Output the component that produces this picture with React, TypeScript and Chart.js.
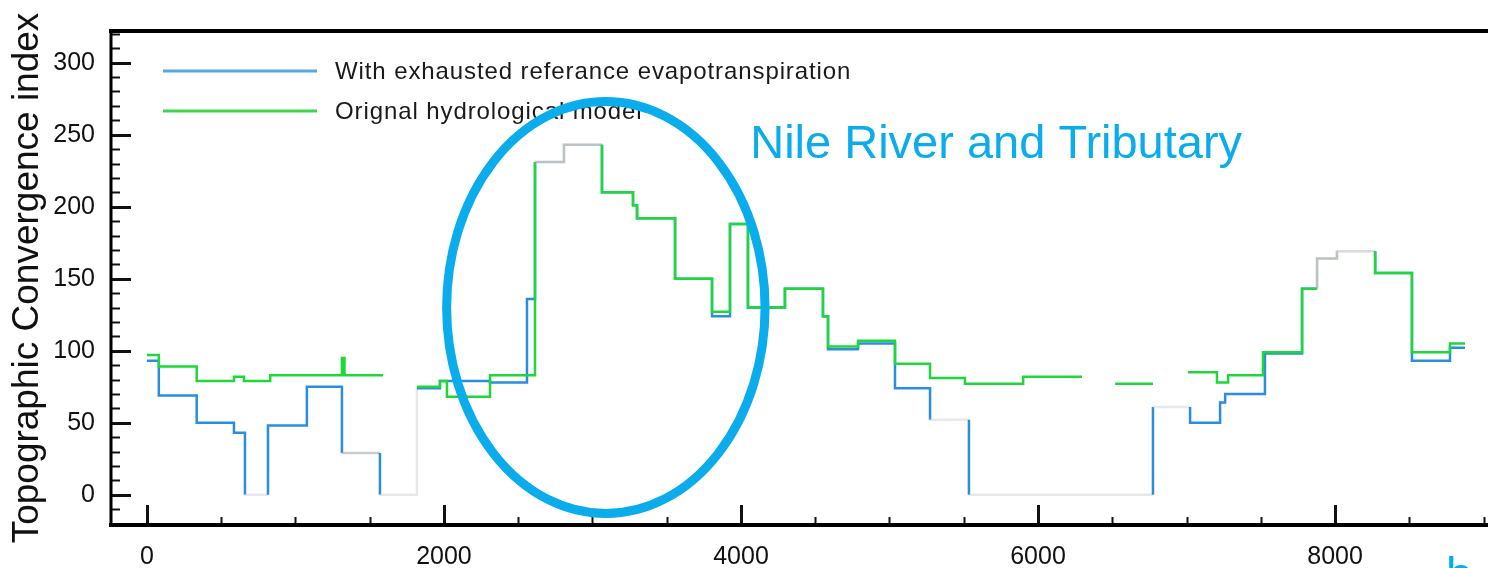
import { useEffect, useRef } from "react";
import { Chart, registerables } from "chart.js";

Chart.register(...registerables);

// Axis ticks
const xTickValues = [0, 2000, 4000, 6000, 8000];
const yTickValues = [0, 50, 100, 150, 200, 250, 300];

// Step series: value i holds from stepX[i] to stepX[i + 1]; null = no data
const blueStepX = [0, 80, 335, 586, 660, 815, 1077, 1313, 1569, 1818, 1973, 2310, 2559, 2613, 2808, 3064, 3273, 3300, 3556, 3805, 3926, 4047, 4296, 4552, 4586, 4788, 5037, 5273, 5535, 6774, 7024, 7226, 7260, 7528, 7778, 7879, 8013, 8270, 8518, 8774, 8875];
const blueStepY = [93, 69, 50, 43, 0, 48, 75, 29, 0, 74, 79, 78, 136, 231, 243, 210, 201, 192, 150, 124, 188, 130, 143, 124, 101, 105, 74, 52, 0, 61, 50, 64, 70, 98, 143, 164, 169, 154, 93, 102];

const greenStepX = [0, 80, 335, 586, 653, 830, 1313, 1330, 1590, 1818, 1973, 2020, 2310, 2613, 2808, 3064, 3273, 3300, 3556, 3805, 3926, 4047, 4296, 4552, 4586, 4788, 5037, 5273, 5508, 5900, 6296, 6519, 6774, 7010, 7205, 7280, 7515, 7778, 7879, 8013, 8270, 8518, 8774, 8875];
const greenStepY = [97, 89, 79, 82, 79, 83, 95, 83, null, 75, 79, 68, 83, 231, 243, 210, 201, 192, 150, 127, 188, 130, 143, 124, 103, 107, 91, 81, 77, 82, null, 77, null, 85, 78, 83, 99, 143, 164, 169, 154, 99, 105];

// Stretches where the printed trace is washed out: [from, to, strength]
const FAINT = "rgba(160,170,175,0.6)";
const GHOST = "rgba(200,205,210,0.45)";
const blueFaintSpans: [number, number, string][] = [
  [660, 815, GHOST],
  [1313, 1569, FAINT],
  [1569, 1820, GHOST],
  [2613, 3064, GHOST],
  [5273, 5535, GHOST],
  [5535, 6774, GHOST],
  [6774, 7024, GHOST],
  [7870, 8270, GHOST],
];
const greenFaintSpans: [number, number, string][] = [
  [2613, 3064, FAINT],
  [7870, 8014, FAINT],
  [8014, 8270, GHOST],
];

const seriesLabels = ["With exhausted referance evapotranspiration", "Orignal hydrological model"];
const yAxisTitle = "Topographic Convergence index";
const calloutText = "Nile River and Tributary";
// Highlight ring and callout anchored in data units
const ring = { x: 3090, y: 130, rx: 1072, ry: 143 };
const callout = { x: 4062, y: 234 };

const BLUE = "#2a8de0";
const GREEN = "#1ed83a";
const CYAN = "#0aacec";
const FONT = "'Liberation Sans', Arial, sans-serif";

type Pt = { x: number; y: number | null };

// Corner points of a step trace (horizontal runs joined by vertical risers)
function stepCorners(xs: number[], ys: (number | null)[]): Pt[] {
  const pts: Pt[] = [];
  for (let i = 0; i < ys.length; i++) {
    const v = ys[i];
    if (v === null) {
      pts.push({ x: xs[i], y: null });
      continue;
    }
    pts.push({ x: xs[i], y: v });
    pts.push({ x: xs[i + 1], y: v });
  }
  return pts;
}

function fadeFor(spans: [number, number, string][]) {
  return (c: any) => {
    const x0 = c.p0.parsed.x;
    const x1 = c.p1.parsed.x;
    if (x0 === x1) {
      const hit = spans.find(([a, b]) => x0 > a && x0 < b);
      return hit ? hit[2] : undefined;
    }
    const mid = (x0 + x1) / 2;
    const hit = spans.find(([a, b]) => mid >= a && mid < b);
    return hit ? hit[2] : undefined;
  };
}

const overlayPlugin = {
  id: "frameTicksNotes",
  afterDatasetsDraw(chart: any) {
    const { ctx, chartArea: a, scales } = chart;
    const xs = scales.x;
    const ys = scales.y;
    ctx.save();

    // minor / major tick marks pointing inwards
    ctx.strokeStyle = "#111";
    for (let v = -20; v <= 320; v += 10) {
      const py = Math.round(ys.getPixelForValue(v)) + 0.5;
      const major = v % 50 === 0;
      ctx.lineWidth = major ? 3 : 2;
      ctx.beginPath();
      ctx.moveTo(a.left, py);
      ctx.lineTo(a.left + (major ? 20 : 9), py);
      ctx.stroke();
    }
    for (let v = 0; v <= 9000; v += 500) {
      const px = Math.round(xs.getPixelForValue(v)) + 0.5;
      if (px > a.right) continue;
      const major = v % 2000 === 0;
      ctx.lineWidth = major ? 3 : 2;
      ctx.beginPath();
      ctx.moveTo(px, a.bottom);
      ctx.lineTo(px, a.bottom - (major ? 20 : 8));
      ctx.stroke();
    }

    // frame
    ctx.strokeStyle = "#000";
    ctx.lineWidth = 4;
    ctx.beginPath();
    ctx.moveTo(a.left - 2, a.top);
    ctx.lineTo(a.right, a.top);
    ctx.moveTo(a.left - 2, a.bottom);
    ctx.lineTo(a.right, a.bottom);
    ctx.stroke();
    ctx.lineWidth = 3;
    ctx.beginPath();
    ctx.moveTo(a.left, a.top);
    ctx.lineTo(a.left, a.bottom + 2);
    ctx.stroke();

    // legend
    const legendRows = [
      { y: 71, color: "#5aa6e2", text: seriesLabels[0] },
      { y: 111, color: "#3fd64e", text: seriesLabels[1] },
    ];
    ctx.font = `24px ${FONT}`;
    ctx.textBaseline = "middle";
    ctx.textAlign = "left";
    for (const row of legendRows) {
      ctx.strokeStyle = row.color;
      ctx.lineWidth = 3;
      ctx.beginPath();
      ctx.moveTo(163, row.y);
      ctx.lineTo(317, row.y);
      ctx.stroke();
      ctx.fillStyle = "#1a1a1a";
      (ctx as any).letterSpacing = "0.9px";
      ctx.fillText(row.text, 335, row.y + 1);
      (ctx as any).letterSpacing = "0px";
    }

    // highlight ring
    const cx = xs.getPixelForValue(ring.x);
    const cy = ys.getPixelForValue(ring.y);
    const rx = xs.getPixelForValue(ring.x + ring.rx) - cx;
    const ry = cy - ys.getPixelForValue(ring.y + ring.ry);
    ctx.strokeStyle = CYAN;
    ctx.lineWidth = 9;
    ctx.beginPath();
    ctx.ellipse(cx, cy, rx, ry, 0, 0, Math.PI * 2);
    ctx.stroke();

    // callout text
    ctx.fillStyle = CYAN;
    ctx.font = `47px ${FONT}`;
    ctx.textBaseline = "alphabetic";
    ctx.fillText(calloutText, xs.getPixelForValue(callout.x), ys.getPixelForValue(callout.y));
    ctx.fillText("b", 1446, 590);

    ctx.restore();
  },
};

export default function App() {
  const canvasRef = useRef<HTMLCanvasElement | null>(null);

  useEffect(() => {
    const canvas = canvasRef.current;
    if (!canvas) return;
    const chart = new Chart(canvas, {
      type: "line",
      data: {
        datasets: [
          {
            label: seriesLabels[0],
            data: stepCorners(blueStepX, blueStepY) as any,
            borderColor: BLUE,
            borderWidth: 2.5,
            pointRadius: 0,
            spanGaps: false,
            tension: 0,
            order: 2,
            segment: { borderColor: fadeFor(blueFaintSpans) },
          },
          {
            label: seriesLabels[1],
            data: stepCorners(greenStepX, greenStepY) as any,
            borderColor: GREEN,
            borderWidth: 2.5,
            pointRadius: 0,
            spanGaps: false,
            tension: 0,
            order: 1,
            segment: { borderColor: fadeFor(greenFaintSpans) },
          },
        ],
      },
      options: {
        animation: false,
        responsive: true,
        maintainAspectRatio: false,
        layout: { padding: { top: 30, right: 0, left: 0, bottom: 0 } },
        plugins: { legend: { display: false }, tooltip: { enabled: false } },
        scales: {
          x: {
            type: "linear",
            min: -242,
            max: 9030,
            grid: { display: false, drawTicks: false },
            border: { display: false },
            afterBuildTicks: (s: any) => {
              s.ticks = xTickValues.map((v) => ({ value: v }));
            },
            afterFit: (s: any) => {
              s.height = 43;
            },
            ticks: {
              autoSkip: false,
              maxRotation: 0,
              padding: 17,
              color: "#111",
              font: { family: FONT, size: 25 },
              callback: (v: any) => String(v),
            },
          },
          y: {
            type: "linear",
            min: -21,
            max: 322,
            grid: { display: false, drawTicks: false },
            border: { display: false },
            afterBuildTicks: (s: any) => {
              s.ticks = yTickValues.map((v) => ({ value: v }));
            },
            afterFit: (s: any) => {
              s.width = 111;
            },
            ticks: {
              padding: 16,
              color: "#111",
              font: { family: FONT, size: 25 },
              callback: (v: any) => String(v),
            },
            title: {
              display: true,
              text: yAxisTitle,
              color: "#111",
              font: { family: FONT, size: 37 },
              padding: { top: 6, bottom: 0 },
            },
          },
        },
      },
      plugins: [overlayPlugin],
    });
    return () => chart.destroy();
  }, []);

  return (
    <div style={{ position: "fixed", left: 0, top: 0, width: 1488, height: 568, background: "#fff" }}>
      <canvas ref={canvasRef} />
    </div>
  );
}
